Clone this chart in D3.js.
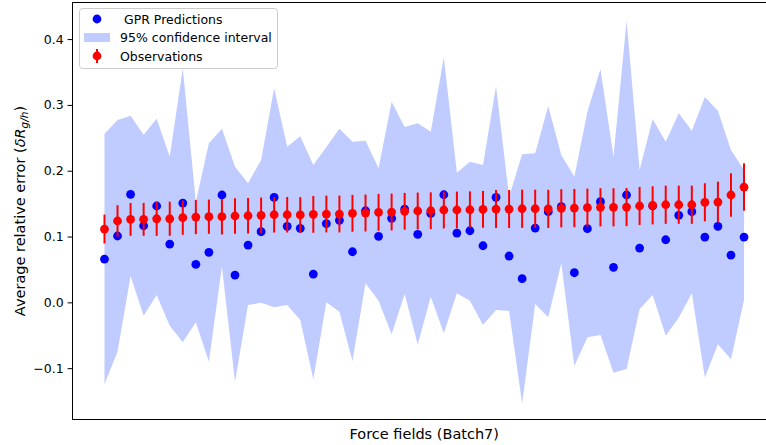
<!DOCTYPE html>
<html lang="en">
<head>
<meta charset="UTF-8">
<title>GPR predictions vs observations</title>
<script src="https://d3js.org/d3.v7.min.js"></script>
<style>
    body { margin: 0; background: white; }
    text { font-family: "DejaVu Sans", sans-serif; fill: black; }
</style>
</head>
<body>
<svg id="main" width="766" height="445"></svg>
<script>
    // observed mean error per force field, with half error bars
    let observations = [0.1114, 0.1236, 0.1261, 0.1261, 0.1270, 0.1270, 0.1286, 0.1296, 0.1301, 0.1301,
        0.1312, 0.1316, 0.1322, 0.1331, 0.1331, 0.1329, 0.1337, 0.1342, 0.1342, 0.1353,
        0.1357, 0.1368, 0.1372, 0.1383, 0.1388, 0.1392, 0.1403, 0.1403, 0.1407, 0.1413,
        0.1418, 0.1418, 0.1422, 0.1422, 0.1420, 0.1429, 0.1433, 0.1438, 0.1444, 0.1444,
        0.1448, 0.1464, 0.1474, 0.1483, 0.1483, 0.1483, 0.1520, 0.1524, 0.1631, 0.1752];
    let obsErr = [0.022, 0.024, 0.025, 0.025, 0.026, 0.026, 0.026, 0.026, 0.026, 0.027,
        0.027, 0.027, 0.027, 0.027, 0.027, 0.027, 0.028, 0.028, 0.028, 0.028,
        0.028, 0.028, 0.028, 0.028, 0.028, 0.028, 0.028, 0.028, 0.028, 0.028,
        0.029, 0.029, 0.029, 0.029, 0.029, 0.029, 0.029, 0.029, 0.029, 0.029,
        0.029, 0.029, 0.029, 0.029, 0.029, 0.029, 0.029, 0.031, 0.033, 0.036];
    // GPR predictions
    let predictions = [0.0658, 0.1008, 0.1641, 0.1164, 0.1464, 0.0886, 0.1509, 0.0578, 0.0760, 0.1631,
        0.0415, 0.0871, 0.1073, 0.1596, 0.1155, 0.1125, 0.0430, 0.1195, 0.1246, 0.0769,
        0.1392, 0.1003, 0.1277, 0.1418, 0.1033, 0.1353, 0.1635, 0.1053, 0.1088, 0.0860,
        0.1596, 0.0704, 0.0359, 0.1129, 0.1377, 0.1453, 0.0450, 0.1119, 0.1529, 0.0532,
        0.1631, 0.0825, 0.1464, 0.0951, 0.1322, 0.1377, 0.0992, 0.1155, 0.0719, 0.0992];
    // 95% confidence interval
    let ciUpper = [0.2558, 0.2770, 0.2836, 0.2547, 0.2790, 0.2213, 0.3556, 0.1529, 0.2416, 0.2638,
        0.2061, 0.1809, 0.2163, 0.3252, 0.2365, 0.2523, 0.2087, 0.2360, 0.2638, 0.2441,
        0.2456, 0.2036, 0.3049, 0.2664, 0.2720, 0.2593, 0.3723, 0.1970, 0.2137, 0.2087,
        0.3287, 0.1605, 0.2249, 0.2264, 0.2983, 0.2239, 0.1909, 0.2897, 0.3546, 0.2213,
        0.4280, 0.2011, 0.2786, 0.2441, 0.2872, 0.2608, 0.3120, 0.2912, 0.2315, 0.2011];
    let ciLower = [-0.1246, -0.0751, 0.0400, -0.0204, 0.0111, -0.0356, -0.0608, -0.0304, -0.0903, 0.0540,
        -0.1207, -0.0041, -0.0006, -0.0076, -0.0041, -0.0269, -0.1170, 0.0000, -0.0143, -0.0892,
        0.0289, 0.0024, -0.0486, 0.0126, -0.0640, 0.0085, -0.0471, 0.0137, 0.0024, -0.0345,
        -0.0117, -0.0132, -0.1535, -0.0026, -0.0228, 0.0593, -0.0968, -0.0532, -0.0497, -0.1070,
        -0.1014, -0.0106, 0.0111, -0.0508, -0.0234, 0.0137, -0.1140, -0.0638, -0.0866, 0.0035];
    let yTicks = [-0.1, 0.0, 0.1, 0.2, 0.3, 0.4];

    let svg = d3.select('svg#main');
    let plot = {left: 72.5, right: 776, top: 2.5, bottom: 419.5};

    let data = observations.map(function (d, i) {
        return {i: i, obs: d, err: obsErr[i], pred: predictions[i], hi: ciUpper[i], lo: ciLower[i]};
    });

    let xScale = d3.scaleLinear().domain([-2.45, data.length - 1 + 2.45]).range([plot.left, plot.right]);
    let yScale = d3.scaleLinear().domain([-0.178, 0.4556]).range([plot.bottom, plot.top]);

    // confidence band
    let band = d3.area()
        .x(function (d) { return xScale(d.i); })
        .y0(function (d) { return yScale(d.lo); })
        .y1(function (d) { return yScale(d.hi); });
    svg.append('path').datum(data)
        .attr('d', band)
        .style('fill', '#c0ccff')
        .style('stroke', 'none');

    // predictions
    svg.append('g').selectAll('circle').data(data).join('circle')
        .attr('cx', function (d) { return xScale(d.i); })
        .attr('cy', function (d) { return yScale(d.pred); })
        .attr('r', 4.4)
        .style('fill', 'blue');

    // observations with error bars
    let obsG = svg.append('g');
    obsG.selectAll('line').data(data).join('line')
        .attr('x1', function (d) { return xScale(d.i); })
        .attr('x2', function (d) { return xScale(d.i); })
        .attr('y1', function (d) { return yScale(d.obs - d.err); })
        .attr('y2', function (d) { return yScale(d.obs + d.err); })
        .style('stroke', 'red')
        .style('stroke-width', 2);
    obsG.selectAll('circle').data(data).join('circle')
        .attr('cx', function (d) { return xScale(d.i); })
        .attr('cy', function (d) { return yScale(d.obs); })
        .attr('r', 4.4)
        .style('fill', 'red');

    // axes
    let yAxis = svg.append('g')
        .attr('transform', 'translate(' + plot.left + ',0)')
        .call(d3.axisLeft(yScale).tickValues(yTicks).tickFormat(d3.format('.1f')).tickSize(4.9).tickPadding(4));
    yAxis.select('.domain').remove();
    yAxis.selectAll('text').style('font-size', '12.5px').style('font-family', '"DejaVu Sans", sans-serif');
    yAxis.selectAll('line').style('stroke-width', 1);

    svg.append('rect')
        .attr('x', plot.left).attr('y', plot.top)
        .attr('width', plot.right - plot.left).attr('height', plot.bottom - plot.top)
        .style('fill', 'none').style('stroke', 'black').style('stroke-width', 1);

    // axis labels
    svg.append('text')
        .attr('x', (plot.left + plot.right) / 2).attr('y', 438.5)
        .attr('text-anchor', 'middle')
        .style('font-size', '14.5px')
        .text('Force fields (Batch7)');

    let yLab = svg.append('text')
        .attr('transform', 'translate(24.5,' + ((plot.top + plot.bottom) / 2) + ') rotate(-90)')
        .attr('text-anchor', 'middle')
        .style('font-size', '14.5px');
    yLab.append('tspan').text('Average relative error (');
    yLab.append('tspan').style('font-style', 'italic').text('δR');
    yLab.append('tspan').style('font-style', 'italic').style('font-size', '10.5px').attr('dy', 3.5).text('g/h');
    yLab.append('tspan').attr('dy', -3.5).text(')');

    // legend
    let leg = svg.append('g');
    leg.append('rect')
        .attr('x', 79.5).attr('y', 8.5).attr('width', 198).attr('height', 60).attr('rx', 3)
        .style('fill', 'white').style('fill-opacity', 0.8)
        .style('stroke', '#cccccc').style('stroke-width', 1);
    leg.append('circle').attr('cx', 97).attr('cy', 19).attr('r', 4.4).style('fill', 'blue');
    leg.append('rect').attr('x', 84).attr('y', 33).attr('width', 26).attr('height', 9).style('fill', '#c0ccff');
    leg.append('line').attr('x1', 97).attr('x2', 97).attr('y1', 49).attr('y2', 63)
        .style('stroke', 'red').style('stroke-width', 2);
    leg.append('circle').attr('cx', 97).attr('cy', 56).attr('r', 4.4).style('fill', 'red');
    let legLabels = [' GPR Predictions', '95% confidence interval', 'Observations'];
    leg.selectAll('text.lab').data(legLabels).join('text')
        .attr('class', 'lab')
        .attr('x', 120)
        .attr('y', function (d, i) { return 19 + i * 18.5; })
        .attr('dy', '0.36em')
        .style('font-size', '12.5px')
        .style('white-space', 'pre')
        .text(function (d) { return d; });
</script>
</body>
</html>
